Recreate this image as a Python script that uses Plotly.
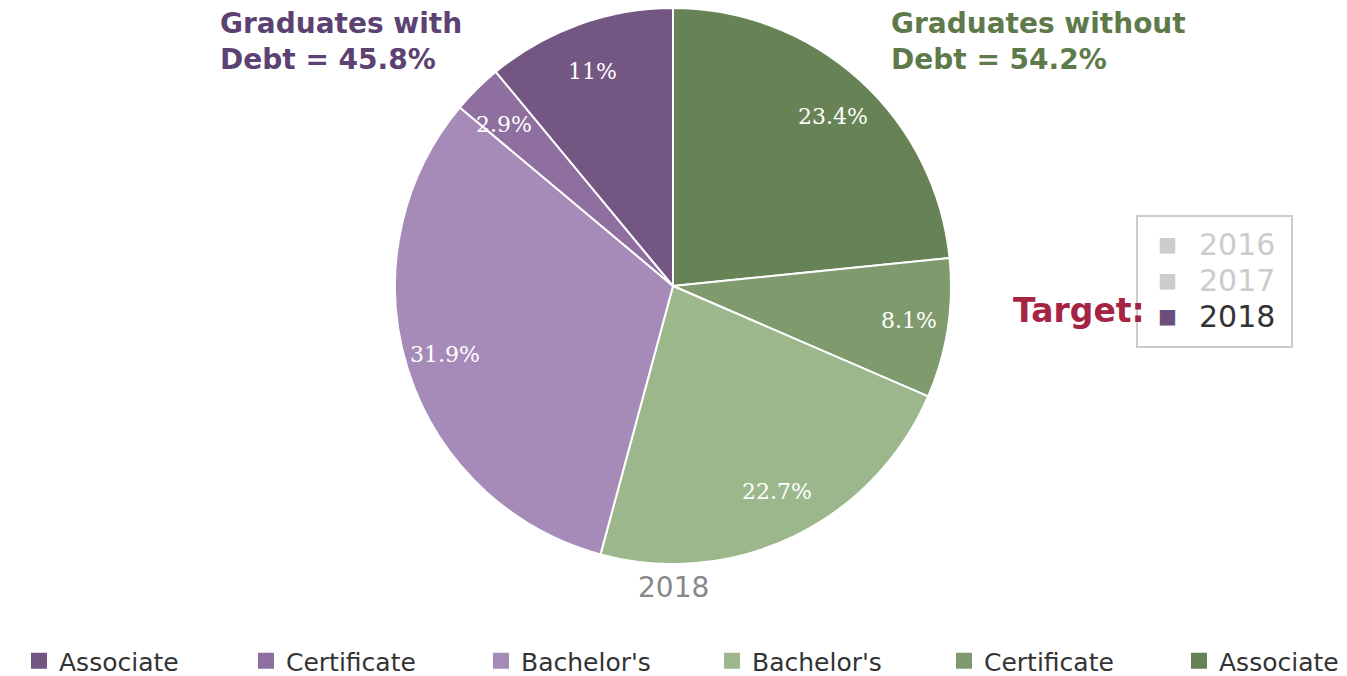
import math
import plotly.graph_objects as go

# legend order (purple "with debt" group first)
categories = ["Associate", "Certificate", "Bachelor's", "Bachelor's", "Certificate", "Associate"]
debt_group = ["with", "with", "with", "without", "without", "without"]
shares = [11, 2.9, 31.9, 22.7, 8.1, 23.4]
slice_colors = ["#735782", "#8e6fa0", "#a68bb9", "#9cb78b", "#7f9b6d", "#678355"]

year_options = ["2016", "2017", "2018"]
selected_year = "2018"

with_debt_total = 45.8
without_debt_total = 54.2

# page body has an 8px margin, so the figure sits 8px in from the window corner
OFF = 8
W, H = 1347 - OFF, 676 - OFF
CX, CY, R = 673, 286, 278  # pie centre / radius in window px


def px(x):
    return (x - OFF) / W


def py(y):
    return 1 - (y - OFF) / H


labels = [c if g == "with" else c + "\u200b" for c, g in zip(categories, debt_group)]

# pie is drawn clockwise from 12 o'clock starting with the green Associate slice
pie_labels = labels[::-1]
pie_values = shares[::-1]
pie_colors = slice_colors[::-1]

fig = go.Figure(go.Pie(
    labels=pie_labels,
    values=pie_values,
    sort=False,
    direction="clockwise",
    rotation=0,
    marker=dict(colors=pie_colors, line=dict(color="white", width=2)),
    textinfo="none",
    hoverinfo="label+percent",
    showlegend=False,
    domain=dict(x=[px(CX - R), px(CX + R)],
                y=[max(0, py(CY + R)), min(1, py(CY - R))]),
))

# legend entries
legend_widths = [182, 190, 186, 187, 190, 120]
for lab, col, lw in zip(categories, slice_colors, legend_widths):
    fig.add_trace(go.Scatter(
        x=[None], y=[None], mode="markers", name=lab,
        marker=dict(symbol="square", size=22, color=col),
        legendwidth=lw,
        hoverinfo="skip",
    ))

annotations = []

# percent labels inside the slices
total = sum(pie_values)
cum = 0
for v in pie_values:
    mid = (cum + v / 2) / total * 2 * math.pi
    cum += v
    annotations.append(dict(
        text=f"{v:g}%",
        x=px(CX + 0.86 * R * math.sin(mid)),
        y=py(CY - 0.82 * R * math.cos(mid)),
        xref="paper", yref="paper", xanchor="center", yanchor="middle", showarrow=False,
        font=dict(family="DejaVu Serif", size=22, color="white"),
    ))

annotations += [
    dict(text=selected_year, x=px(CX), y=py(587), xref="paper", yref="paper",
         xanchor="center", yanchor="middle", showarrow=False,
         font=dict(family="DejaVu Sans", size=28, color="#888888")),
    dict(text=f"<b>Graduates with<br>Debt = {with_debt_total}%</b>",
         x=px(218), y=py(5), xref="paper", yref="paper",
         xanchor="left", yanchor="top", align="left", showarrow=False,
         font=dict(family="DejaVu Sans", size=28, color="#5c4272")),
    dict(text=f"<b>Graduates without<br>Debt = {without_debt_total}%</b>",
         x=px(889), y=py(5), xref="paper", yref="paper",
         xanchor="left", yanchor="top", align="left", showarrow=False,
         font=dict(family="DejaVu Sans", size=28, color="#5e7a4b")),
    dict(text="<b>Target:</b>",
         x=px(1147), y=py(310), xref="paper", yref="paper",
         xanchor="right", yanchor="middle", showarrow=False,
         font=dict(family="DejaVu Sans", size=33, color="#a62443")),
]

# year selector box
for i, yr in enumerate(year_options):
    active = yr == selected_year
    ypix = 244 + 36 * i
    annotations.append(dict(
        text="■", x=px(1167), y=py(ypix), xref="paper", yref="paper",
        xanchor="center", yanchor="middle", showarrow=False,
        font=dict(family="DejaVu Sans", size=20, color="#6b4f7e" if active else "#cccccc")))
    annotations.append(dict(
        text=yr, x=px(1197), y=py(ypix), xref="paper", yref="paper",
        xanchor="left", yanchor="middle", showarrow=False,
        font=dict(family="DejaVu Sans", size=30, color="#333333" if active else "#cccccc")))

fig.update_layout(
    width=W, height=H,
    margin=dict(l=0, r=0, t=0, b=0, autoexpand=False),
    paper_bgcolor="white",
    plot_bgcolor="white",
    font=dict(family="DejaVu Sans", color="#333333"),
    xaxis=dict(visible=False),
    yaxis=dict(visible=False),
    showlegend=True,
    legend=dict(
        orientation="h", x=px(19), xanchor="left", y=py(661), yanchor="middle",
        font=dict(family="DejaVu Sans", size=25, color="#333333"),
        itemclick=False, itemdoubleclick=False,
    ),
    shapes=[dict(type="rect", xref="paper", yref="paper",
                 x0=px(1137), x1=px(1292), y0=py(347), y1=py(216),
                 line=dict(color="#cccccc", width=2))],
    annotations=annotations,
)

fig.write_html("out.html")
